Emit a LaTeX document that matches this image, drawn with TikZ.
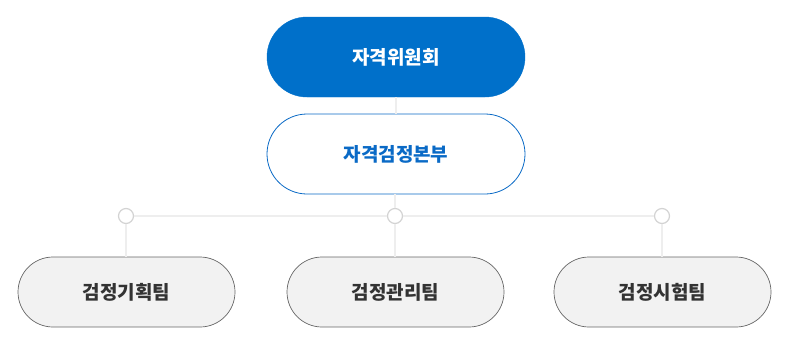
\documentclass[tikz,border=0pt]{standalone}
\usepackage{fontspec}
\newfontfamily\kr{Noto Sans CJK KR}
\definecolor{topblue}{HTML}{0070CA}
\definecolor{txtblue}{HTML}{0A6AC6}
\definecolor{linegray}{HTML}{EEEEEE}
\definecolor{circgray}{HTML}{D3D3D3}
\definecolor{boxfill}{HTML}{F2F2F2}
\definecolor{boxline}{HTML}{666666}
\definecolor{txtgray}{HTML}{333333}
\tikzset{
  lbl/.style={font=\kr\bfseries\fontsize{19}{22}\selectfont, inner sep=0pt},
  topbox/.style={lbl, draw=topblue, fill=topblue, text=white, minimum width=258pt, minimum height=80pt, rounded corners=40pt},
  hqbox/.style={lbl, draw=txtblue, fill=white, text=txtblue, line width=0.8pt, minimum width=258pt, minimum height=80pt, rounded corners=40pt},
  teambox/.style={lbl, draw=boxline, fill=boxfill, text=txtgray, line width=0.7pt, minimum width=217pt, minimum height=70pt, rounded corners=35pt},
  joint/.style={circle, draw=circgray, fill=white, line width=1.2pt, minimum size=15pt, inner sep=0pt},
  conn/.style={draw=linegray, line width=1.5pt}
}
\begin{document}
\begin{tikzpicture}[x=1pt,y=-1pt]
\useasboundingbox (0,0) rectangle (786,338);
\node[topbox] (committee) at (396,57) {자격위원회};
\node[hqbox] (hq) at (396,154) {자격검정본부};
\node[joint] (j1) at (126,216) {};
\node[joint] (j2) at (395,216) {};
\node[joint] (j3) at (662,216) {};
\node[teambox] (t1) at (126.5,292) {검정기획팀};
\node[teambox] (t2) at (395.5,292) {검정관리팀};
\node[teambox] (t3) at (662.5,292) {검정시험팀};
\path[conn] (committee.south) -- (hq.north);
\path[conn] (hq.south -| j2) -- (j2.north);
\path[conn] (j1.east) -- (j2.west);
\path[conn] (j2.east) -- (j3.west);
\path[conn] (j1.south) -- (t1.north -| j1);
\path[conn] (j2.south) -- (t2.north -| j2);
\path[conn] (j3.south) -- (t3.north -| j3);
\end{tikzpicture}
\end{document}
